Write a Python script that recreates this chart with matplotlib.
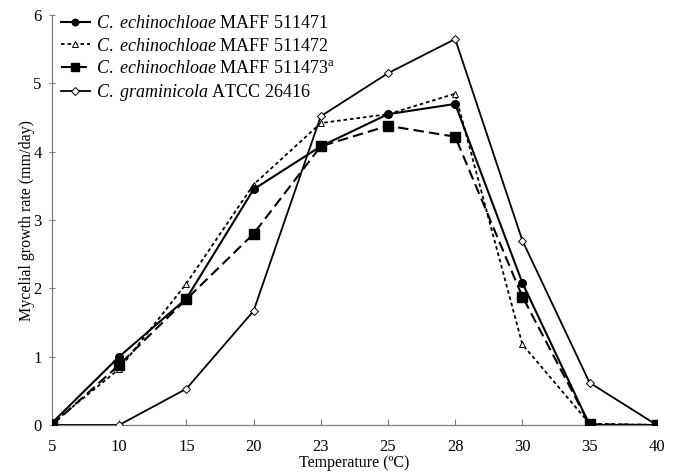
import numpy as np
import matplotlib
matplotlib.use("Agg")
import matplotlib.pyplot as plt

plt.rcParams['font.family'] = ['Liberation Serif', 'DejaVu Serif']
plt.rcParams['mathtext.fontset'] = 'custom'
plt.rcParams['mathtext.rm'] = 'Liberation Serif'
plt.rcParams['mathtext.it'] = 'Liberation Serif:italic'

temps = ["5", "10", "15", "20", "23", "25", "28", "30", "35", "40"]

maff_511471 = [0.03, 1.00, 1.85, 3.45, 4.08, 4.55, 4.70, 2.08, 0.00, 0.00]
maff_511472 = [0.02, 0.82, 2.07, 3.52, 4.42, 4.55, 4.85, 1.18, 0.02, 0.00]
maff_511473 = [0.00, 0.88, 1.84, 2.80, 4.08, 4.38, 4.22, 1.88, 0.01, 0.00]
atcc_26416 = [0.00, 0.00, 0.53, 1.67, 4.52, 5.15, 5.65, 2.70, 0.62, 0.00]

labels = [r"$\mathit{C.\ echinochloae}$ MAFF 511471",
          r"$\mathit{C.\ echinochloae}$ MAFF 511472",
          r"$\mathit{C.\ echinochloae}$ MAFF 511473$^{\mathrm{a}}$",
          r"$\mathit{C.\ graminicola}$ ATCC 26416"]

fig = plt.figure(figsize=(6.75, 4.73), dpi=100)
ax = fig.add_axes([0.077, 0.1015, 0.896, 0.8665])
x = np.arange(len(temps))

ax.plot(x, maff_511471, color='black', lw=1.5, marker='o', ms=5.5,
        mfc='black', label=labels[0], zorder=4)
ax.plot(x, maff_511472, color='black', lw=1.3, ls=(0, (2, 1.6)), marker='^', ms=5,
        mfc='white', mew=0.7, label=labels[1], zorder=3)
ax.plot(x, maff_511473, color='black', lw=1.5, ls=(0, (5, 2.5)), marker='s', ms=6.5,
        mfc='black', label=labels[2], zorder=3)
ax.plot(x, atcc_26416, color='black', lw=1.3, marker='D', ms=4.5,
        mfc='white', mew=0.7, label=labels[3], zorder=3)

ax.set_xlim(0, 9)
ax.set_ylim(0, 6)
ax.set_xticks(x)
ax.set_xticklabels(temps)
ax.set_yticks(range(7))

for s in ['top', 'right']:
    ax.spines[s].set_visible(False)
for s in ['left', 'bottom']:
    ax.spines[s].set_color('#7f7f7f')
    ax.spines[s].set_linewidth(0.9)
ax.tick_params(axis='x', direction='in', length=4, color='#7f7f7f', labelsize=12, pad=10)
ax.tick_params(axis='y', direction='inout', length=5, color='#7f7f7f', labelsize=12, pad=5)

ax.set_xlabel("Temperature (ºC)", fontsize=11.5, labelpad=0)
ax.set_ylabel("Mycelial growth rate (mm/day)", fontsize=11.5, labelpad=-1)

leg = ax.legend(loc='upper left', frameon=False, fontsize=13, handlelength=1.6,
                handletextpad=0.35, labelspacing=0.3, borderaxespad=0.0,
                borderpad=0.0, markerscale=0.85,
                bbox_to_anchor=(0.015, 1.0))

fig.savefig("out.png", dpi=100)
